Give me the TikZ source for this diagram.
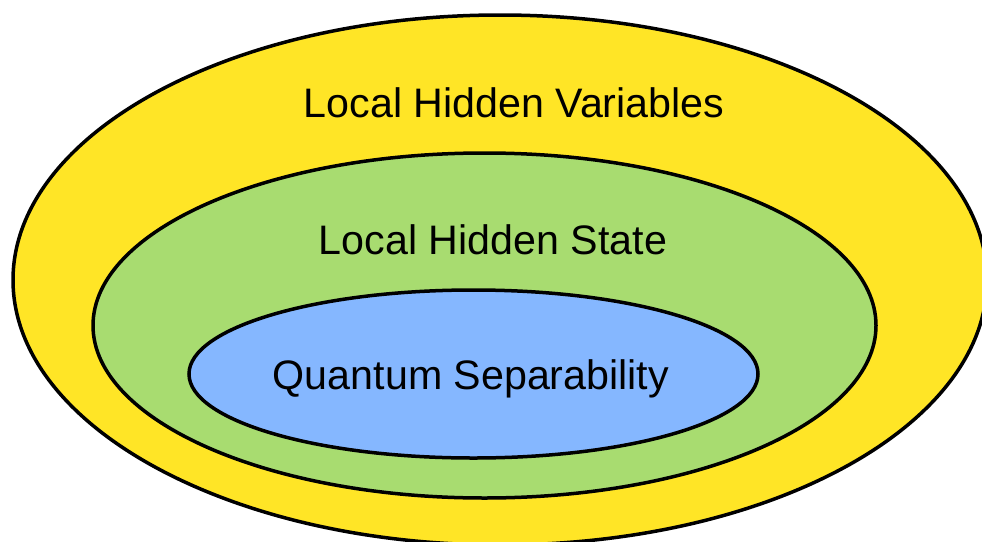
\documentclass[tikz,border=0pt]{standalone}
\usepackage{fontspec}
\setmainfont{Liberation Sans}
\definecolor{lhvyellow}{RGB}{255,229,38}
\definecolor{lhsgreen}{RGB}{168,220,112}
\definecolor{qsblue}{RGB}{133,183,255}
\begin{document}
\begin{tikzpicture}[x=1pt,y=-1pt,
  setline/.style={draw=black,line width=3.5pt},
  setlabel/.style={anchor=base,inner sep=0pt,font=\fontsize{41.2}{48}\selectfont}]
\useasboundingbox (0,0) rectangle (982,541);
\clip (0,0) rectangle (982,541);
\fill[white] (0,0) rectangle (982,541);
\filldraw[setline,fill=lhvyellow] (500,280) ellipse [x radius=487, y radius=265];
\filldraw[setline,fill=lhsgreen] (484.5,325.5) ellipse [x radius=391.5, y radius=172.5];
\filldraw[setline,fill=qsblue] (473.5,374) ellipse [x radius=284.5, y radius=84];
\node[setlabel] (lhv) at (514,117) {Local Hidden Variables};
\node[setlabel] (lhs) at (493,254) {Local Hidden State};
\node[setlabel] (qs) at (471,389) {Quantum Separability};
\end{tikzpicture}
\end{document}
